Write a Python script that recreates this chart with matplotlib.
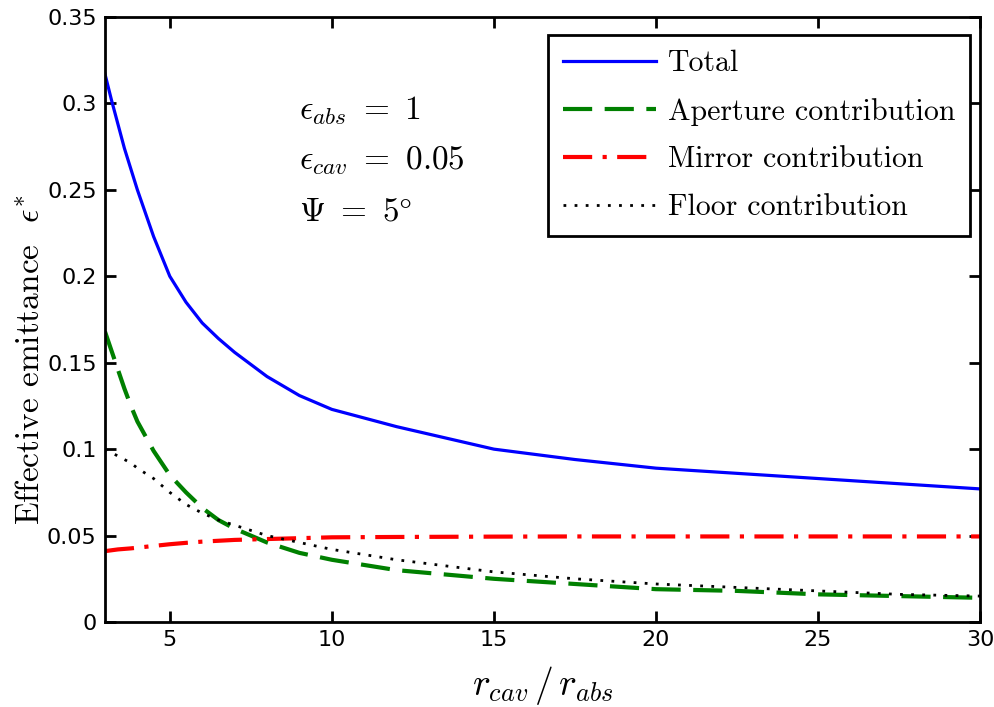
import numpy as np
import matplotlib
matplotlib.use("Agg")
import matplotlib.pyplot as plt

plt.rcParams['mathtext.fontset'] = 'cm'

# ratio r_cav / r_abs
ratio = [3, 3.2, 3.4, 3.6, 3.8, 4, 4.5, 5, 5.5, 6, 6.5, 7, 8, 9, 10, 12, 15, 17.5, 20, 22.5, 25, 27.5, 30]

# emittance contributions
total = [0.317, 0.302, 0.288, 0.274, 0.262, 0.250, 0.223, 0.200, 0.185, 0.173, 0.164, 0.156,
         0.142, 0.131, 0.123, 0.113, 0.100, 0.094, 0.089, 0.086, 0.083, 0.080, 0.077]
aperture = [0.168, 0.157, 0.146, 0.135, 0.125, 0.116, 0.099, 0.085, 0.075, 0.066, 0.059, 0.054,
            0.046, 0.040, 0.036, 0.030, 0.025, 0.022, 0.019, 0.018, 0.016, 0.015, 0.014]
mirror = [0.041, 0.0415, 0.042, 0.0423, 0.0426, 0.043, 0.044, 0.045, 0.0458, 0.0465, 0.047, 0.0475,
          0.048, 0.0485, 0.049, 0.0492, 0.0494, 0.0495, 0.0495, 0.0495, 0.0495, 0.0495, 0.0495]
floor = [0.100, 0.098, 0.096, 0.094, 0.092, 0.089, 0.083, 0.075, 0.068, 0.063, 0.059, 0.056,
         0.050, 0.046, 0.042, 0.036, 0.029, 0.025, 0.022, 0.020, 0.018, 0.016, 0.015]

fig = plt.figure(figsize=(9.95, 7.07), dpi=100)
ax = fig.add_axes([0.1055, 0.1202, 0.8795, 0.8558])

ax.plot(ratio, total, color='#0000ff', lw=2.3, label='Total')
ax.plot(ratio, aperture, color='#008000', lw=3, ls=(0, (7, 3)), label='Aperture contribution')
ax.plot(ratio, mirror, color='#ff0000', lw=3, ls=(0, (7, 2.5, 1, 2.5)), label='Mirror contribution')
ax.plot(ratio, floor, color='black', lw=2, ls=(0, (1, 3)), label='Floor contribution')

ax.set_xlim(3, 30)
ax.set_ylim(0, 0.35)
ax.set_xticks([5, 10, 15, 20, 25, 30])
ax.set_yticks(np.arange(0, 0.351, 0.05))
ax.set_yticklabels(['0', '0.05', '0.1', '0.15', '0.2', '0.25', '0.3', '0.35'])
ax.tick_params(direction='in', length=8, width=2, top=True, right=True, labelsize=16, pad=6)
for sp in ax.spines.values():
    sp.set_linewidth(2)

ax.set_xlabel(r'$r_{cav}\,/\,r_{abs}$', fontsize=27, labelpad=10)
ax.set_ylabel(r'Effective emittance  $\epsilon^{*}$', fontsize=24, family='cmr10')
ax.yaxis.set_label_coords(-0.068, 0.433)

ax.text(9.0, 0.296, r'$\epsilon_{abs}\ =\ 1$', fontsize=24, va='center')
ax.text(9.0, 0.267, r'$\epsilon_{cav}\ =\ 0.05$', fontsize=24, va='center')
ax.text(9.0, 0.238, r'$\Psi\ =\ 5\degree$', fontsize=24, va='center')

leg = ax.legend(loc='upper right', bbox_to_anchor=(0.9886, 0.970), borderaxespad=0,
                fancybox=False, edgecolor='black', framealpha=1,
                prop={'family': 'cmr10', 'size': 21.5},
                handlelength=3.1, handletextpad=0.4, labelspacing=0.68, borderpad=0.5)
leg.get_frame().set_linewidth(2)

fig.savefig('out.png', dpi=100)
